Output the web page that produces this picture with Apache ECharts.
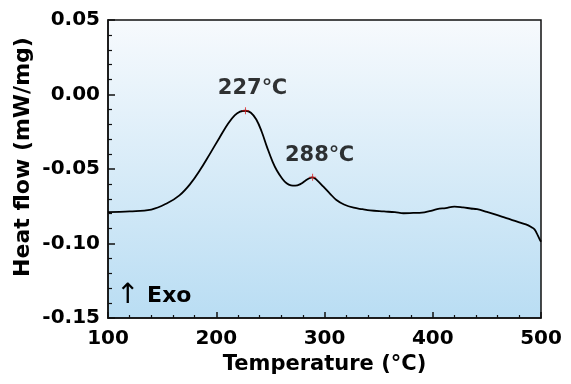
<!DOCTYPE html>
<html>
<head>
<meta charset="utf-8">
<script src="https://cdn.jsdelivr.net/npm/echarts@6/dist/echarts.min.js"></script>
<style>
  html, body { margin: 0; padding: 0; background: #fff; }
  #chart { width: 571px; height: 384px; }
</style>
</head>
<body>
<div id="chart"></div>
<script>
// DSC curve
const temperature = [100, 120, 140, 155, 166, 176, 185, 194, 203, 211, 217, 222, 227, 232, 237, 242, 247, 252, 256, 261, 265, 269, 273, 278, 282, 286, 289, 293, 299, 305, 311, 318, 327, 335, 342, 355, 365, 373, 382, 390, 397, 404, 412, 420, 428, 435, 441, 450, 459, 468, 478, 486, 491, 494, 496, 498, 500]
const heatFlow = [-0.0789, -0.0785, -0.0772, -0.0728, -0.0677, -0.0600, -0.0507, -0.0400, -0.0290, -0.0195, -0.0140, -0.0115, -0.0109, -0.0122, -0.0168, -0.0250, -0.0355, -0.0450, -0.0510, -0.0565, -0.0596, -0.0610, -0.0612, -0.0600, -0.0580, -0.0562, -0.0556, -0.0575, -0.0619, -0.0665, -0.0708, -0.0738, -0.0760, -0.0770, -0.0778, -0.0785, -0.0790, -0.0797, -0.0795, -0.0793, -0.0783, -0.0770, -0.0762, -0.0753, -0.0758, -0.0765, -0.0770, -0.0788, -0.0808, -0.0830, -0.0853, -0.0872, -0.0890, -0.0905, -0.0930, -0.0960, -0.0988]
// peaks
const peakT = [227, 289]
const peakV = [-0.0109, -0.0556]
const peakLabels = ['227℃', '288℃']

const xTicks = { min: 100, max: 500, interval: 100 }
const yTicks = { min: -0.15, max: 0.05, interval: 0.05 }

const font = 'DejaVu Sans'
const chart = echarts.init(document.getElementById('chart'), null, { renderer: 'canvas' })

const option = {
  animation: false,
  grid: {
    left: 108, right: 30, top: 20, bottom: 66,
    outerBoundsMode: 'none',
    containLabel: false,
    show: true,
    borderColor: '#111',
    borderWidth: 1.5,
    backgroundColor: {
      type: 'linear', x: 0, y: 0, x2: 0, y2: 1,
      colorStops: [
        { offset: 0, color: '#f7fafd' },
        { offset: 1, color: '#b9ddf3' }
      ]
    }
  },
  xAxis: {
    type: 'value',
    min: xTicks.min, max: xTicks.max, interval: xTicks.interval,
    name: 'Temperature (°C)',
    nameLocation: 'middle',
    nameGap: 31,
    nameTextStyle: { fontFamily: font, fontWeight: 'bold', fontSize: 21, color: '#000' },
    axisLine: { onZero: false, lineStyle: { color: '#111', width: 1.5 } },
    axisTick: { inside: true, length: 6, lineStyle: { color: '#111', width: 1.5 } },
    minorTick: { show: true, splitNumber: 5, length: 3, lineStyle: { color: '#111', width: 1.2 } },
    axisLabel: { fontFamily: font, fontWeight: 'bold', fontSize: 20, color: '#000', margin: 11 },
    splitLine: { show: false }
  },
  yAxis: {
    type: 'value',
    min: yTicks.min, max: yTicks.max, interval: yTicks.interval,
    axisLine: { onZero: false, lineStyle: { color: '#111', width: 1.5 } },
    axisTick: { inside: true, length: 7, lineStyle: { color: '#111', width: 1.5 } },
    minorTick: { show: true, splitNumber: 5, length: 4, lineStyle: { color: '#111', width: 1.2 } },
    axisLabel: {
      fontFamily: font, fontWeight: 'bold', fontSize: 20, color: '#000', margin: 8,
      formatter: (v) => v.toFixed(2)
    },
    splitLine: { show: false }
  },
  graphic: [
    {
      type: 'text',
      x: 23, y: 157,
      rotation: Math.PI / 2,
      style: {
        text: 'Heat flow (mW/mg)',
        fontFamily: font, fontWeight: 'bold', fontSize: 22, fill: '#000',
        align: 'center', verticalAlign: 'middle'
      }
    },
    {
      type: 'text',
      left: 116, top: 282,
      style: {
        text: '{a|↑}{b| Exo}',
        rich: {
          a: { fontFamily: font, fontSize: 28, fill: '#000', fontWeight: 'normal' },
          b: { fontFamily: font, fontSize: 22, fontWeight: 'bold', fill: '#000' }
        }
      }
    }
  ],
  series: [
    {
      type: 'line',
      data: temperature.map((t, i) => [t, heatFlow[i]]),
      smooth: 0.4,
      showSymbol: false,
      lineStyle: { color: '#000', width: 1.8 },
      z: 2
    },
    {
      type: 'scatter',
      data: peakT.map((t, i) => [t, peakV[i]]),
      symbol: 'path://M0,3H3V0H4V3H7V4H4V7H3V4H0Z',
      symbolSize: 7,
      itemStyle: { color: '#e02020' },
      label: {
        show: true,
        position: 'top',
        distance: 8,
        offset: [7, 0],
        formatter: (p) => peakLabels[p.dataIndex],
        fontFamily: font, fontWeight: 'bold', fontSize: 21, color: '#000'
      },
      z: 3
    }
  ]
}
chart.setOption(option)
</script>
</body>
</html>
